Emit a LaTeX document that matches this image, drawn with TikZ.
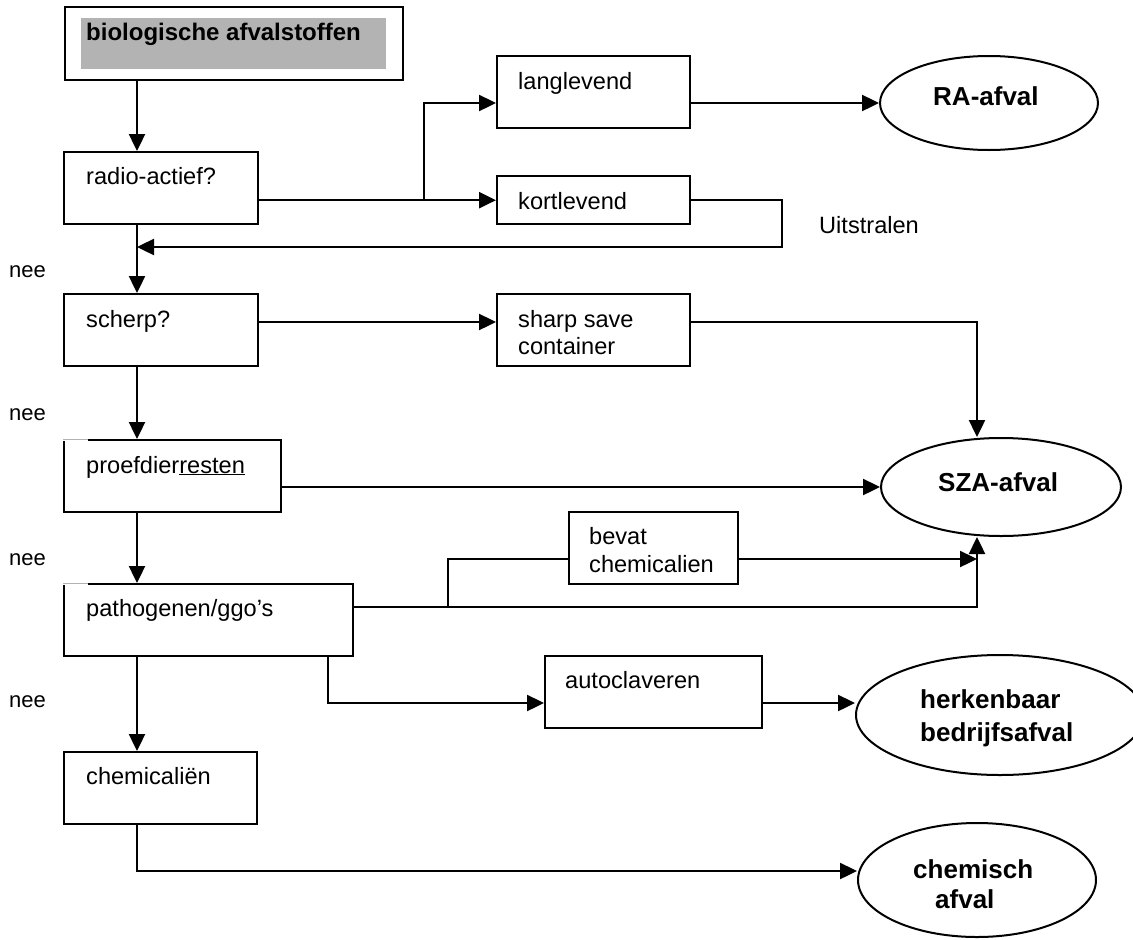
\documentclass[tikz,border=0pt]{standalone}
\usepackage{fontspec}
\setmainfont{Liberation Sans}
\usetikzlibrary{arrows.meta,calc,shapes.geometric}
\definecolor{shade}{RGB}{179,179,179}

\begin{document}
\begin{tikzpicture}[x=1pt,y=-1pt,
  line width=2.4pt,
  flow/.style={-{Triangle[length=17pt,width=16pt]}},
  box/.style={draw, rectangle, inner sep=0pt, anchor=north west, minimum height=72pt},
  bin/.style={draw, ellipse, inner sep=0pt, line width=2pt},
  lbl/.style={font=\fontsize{23.6}{27}\selectfont, inner sep=0pt, anchor=base west, align=left},
  binlbl/.style={font=\fontsize{26}{32}\selectfont\bfseries, inner sep=0pt, anchor=base west, align=left},
  note/.style={font=\fontsize{22}{24}\selectfont, inner sep=0pt, anchor=base west},
]
\useasboundingbox (0,0) rectangle (1133,940);

% main vertical spine of the decision chain
\coordinate (spine) at (137,0);
\coordinate (szacol) at (977,0);

% start box with shaded title
\node[box, minimum width=338pt, minimum height=73pt] (bio) at (64,6) {};
\node[anchor=north west, fill=shade, inner sep=0pt, minimum width=305pt, minimum height=51pt] (bioshade) at (80,17) {};
\node[lbl, font=\fontsize{24}{27}\selectfont\bfseries] (biot) at (85,40) {biologische afvalstoffen};

% decision boxes
\node[box, minimum width=194pt] (radio) at (63,151) {};
\node[lbl] (radiot) at (85,184) {radio-actief?};
\node[box, minimum width=194pt] (scherp) at (63,293) {};
\node[lbl] (scherpt) at (85,327) {scherp?};
\node[box, minimum width=217pt] (proef) at (63,439) {};
\node[lbl] (proeft) at (85,473) {proefdier\underline{resten}};
\node[box, minimum width=289pt] (patho) at (63,583) {};
\node[lbl] (pathot) at (85,616) {pathogenen/ggo's};
\node[box, minimum width=193pt] (chem) at (63,751) {};
\node[lbl] (chemt) at (85,784) {chemicaliën};

% treatment boxes (multi-line labels are anchored at their last baseline)
\node[box, minimum width=193pt] (lang) at (496,55) {};
\node[lbl] (langt) at (517,89) {langlevend};
\node[box, minimum width=193pt, minimum height=48pt] (kort) at (496,175) {};
\node[lbl] (kortt) at (517,209) {kortlevend};
\node[box, minimum width=193pt] (sharp) at (496,293) {};
\node[lbl] (sharpt) at (517,354) {sharp save\\container};
\node[box, minimum width=169pt] (bevat) at (568,511) {};
\node[lbl, font=\fontsize{23.6}{28}\selectfont] (bevatt) at (588,572) {bevat\\chemicalien};
\node[box, minimum width=217pt] (auto) at (544,655) {};
\node[lbl] (autot) at (564,688) {autoclaveren};

% waste streams
\node[bin, minimum width=218pt, minimum height=94pt] (ra) at (989,103) {};
\node[binlbl] (rat) at (932,105) {RA-afval};
\node[bin, minimum width=240pt, minimum height=98pt] (sza) at (1001,487) {};
\node[binlbl] (szat) at (937,491) {SZA-afval};
\node[bin, minimum width=288pt, minimum height=120pt] (herk) at (1000,715) {};
\node[binlbl, font=\fontsize{26}{33}\selectfont\bfseries] (herkt) at (919,741) {herkenbaar\\bedrijfsafval};
\node[bin, minimum width=238pt, minimum height=114pt] (chemisch) at (977,880) {};
\node[binlbl, font=\fontsize{26}{30}\selectfont\bfseries] (chemischt) at (912,908) {chemisch\\\hspace*{22pt}afval};

% side notes
\node[note] (nee1) at (8,277) {nee};
\node[note] (nee2) at (8,420) {nee};
\node[note] (nee3) at (8,565) {nee};
\node[note] (nee4) at (8,707) {nee};
\node[lbl] (uit) at (818,233) {Uitstralen};

% connector helper points
\coordinate (langin) at ($(lang.north west)+(0,48)$);
\coordinate (split1) at (424,199);
\coordinate (back) at (782,247);
\coordinate (scherpline) at (0,322);
\coordinate (pline) at ($(patho.north east)+(0,24)$);
\coordinate (split2) at (448,607);
\coordinate (bevin) at ($(bevat.north west)+(0,48)$);
\coordinate (split3) at (328,655);
\coordinate (autoin) at ($(auto.north west)+(0,48)$);
\coordinate (chembend) at (137,871);

% main chain
\draw[flow] (bio.south -| spine) -- (radio.north -| spine);
\draw[flow] (radio.south -| spine) -- (scherp.north -| spine);
\draw[flow] (scherp.south -| spine) -- (proef.north -| spine);
\draw[flow] (proef.south -| spine) -- (patho.north -| spine);
\draw[flow] (patho.south -| spine) -- (chem.north -| spine);

% radioactive branch
\draw[flow] (radio.east |- kort.west) -- (kort.west);
\draw[flow] (split1) |- (langin);
\draw[flow] (lang.east |- ra.west) -- (ra.west);
\draw[flow] (kort.east) -| (back) -- (back -| spine);

% sharps
\draw[flow] (scherp.east |- scherpline) -- (sharp.west |- scherpline);
\draw[flow] (sharp.east |- scherpline) -| (sza.north -| szacol);

% animal remains
\draw[flow] (proef.east |- sza.west) -- (sza.west);

% pathogens
\draw[flow] (pline) -| (sza.south -| szacol);
\draw (split2) |- (bevin);
\draw[flow] (bevat.east |- bevin) -- (bevin -| szacol);
\draw[flow] (split3) |- (autoin);
\draw[flow] (auto.east |- autoin) -- (autoin -| herk.west);

% chemicals
\draw[flow] (chem.south -| spine) -- (chembend) -- (chembend -| chemisch.west);

% faint top-left corners
\foreach \b in {proef,patho}{
  \draw[white, line width=3pt] (\b.north west) -- ++(25,0);
  \draw[black!30, line width=0.7pt] (\b.north west) -- ++(25,0);
}
\end{tikzpicture}
\end{document}
